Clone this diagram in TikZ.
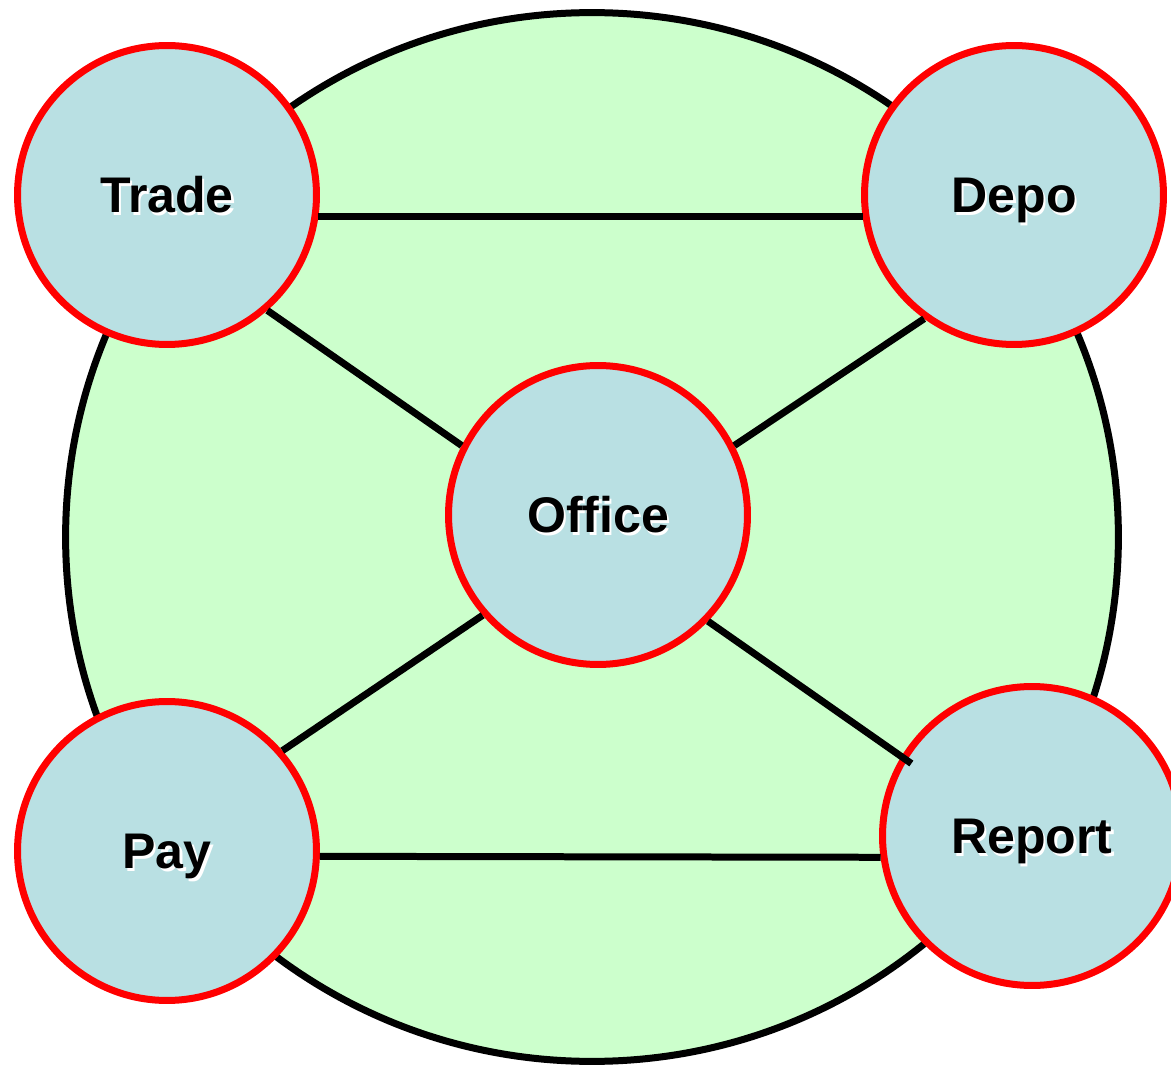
\documentclass[tikz,border=0pt]{standalone}
\usepackage{fontspec}
\setmainfont{Liberation Sans}
\usetikzlibrary{calc}
\definecolor{ringgreen}{HTML}{CCFFCC}
\definecolor{stationblue}{HTML}{B9E0E3}
\tikzstyle{station} = [circle, draw=red, fill=stationblue, line width=0.14cm, minimum size=5.98cm, inner sep=0pt, text height=20.4pt, text depth=0pt, font=\fontsize{28.5}{34}\selectfont\bfseries]
\tikzstyle{connector} = [line width=0.14cm]
\newcommand{\shadowed}[1]{\makebox[0pt][l]{\hspace{1.4pt}\raisebox{-1.4pt}{\color{white}#1}}#1}

\begin{document}
\begin{tikzpicture}[x=0.02cm, y=-0.02cm]
                \useasboundingbox (0,0) rectangle (1171,1071);
                \draw [connector, fill=ringgreen] (592,537) ellipse [x radius=10.53cm, y radius=10.49cm];

                \node (trade) [station] at (167,195) {\shadowed{Trade}};
                \node (depo) [station] at (1014,195) {\shadowed{Depo}};
                \node (office) [station] at (598,515) {\shadowed{Office}};
                \node (pay) [station] at (167,851) {\shadowed{Pay}};
                \node (report) [station] at (1032,836) {\shadowed{Report}};

                \draw [connector] (trade.-8.6) -- (depo.188.6);
                \draw [connector] (pay.-2.6) -- (report.188.3);
                \draw [connector] (trade.-49.4) -- (office.153.9);
                \draw [connector] (depo.234.3) -- (office.27.1);
                \draw [connector] (office.221.1) -- (pay.41.2);
                \draw [connector] (office.-44.2) -- ($(report.center)!0.92!(report.149.2)$);
            \end{tikzpicture}
\end{document}
